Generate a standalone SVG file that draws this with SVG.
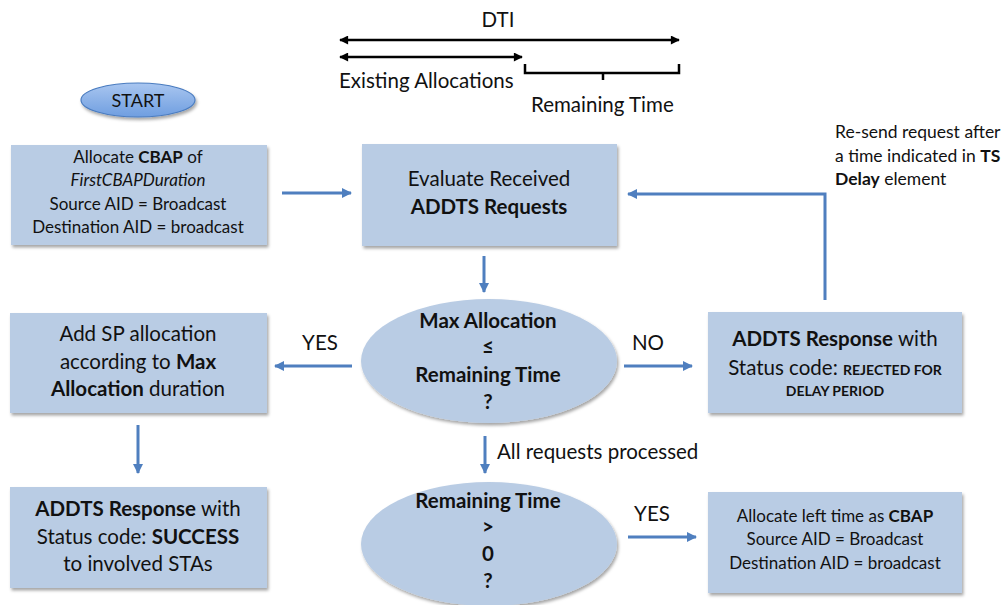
<svg xmlns="http://www.w3.org/2000/svg" width="1006" height="605" viewBox="0 0 1006 605">
<style>
text{font-family:Lato,"Liberation Sans",sans-serif;fill:#111}
.c{text-anchor:middle}
.b{font-weight:bold}
.box{fill:#b9cce4}
.f16{font-size:17px}
.f19{font-size:20.5px}
.conn{stroke:#4f7fbf;stroke-width:3;fill:none}
.blk{stroke:#000;stroke-width:2.5;fill:none}
</style>
<defs>
<marker id="ah" viewBox="0 0 10 10" refX="9" refY="5" markerWidth="10" markerHeight="10" markerUnits="userSpaceOnUse" orient="auto">
<path d="M0,0 L10,5 L0,10 z" fill="#4f7fbf"/>
</marker>
<marker id="bh" viewBox="0 0 10 10" refX="9" refY="5" markerWidth="10" markerHeight="9" markerUnits="userSpaceOnUse" orient="auto-start-reverse">
<path d="M0,0 L10,5 L0,10 z" fill="#000"/>
</marker>
<filter id="sh" x="-5%" y="-5%" width="115%" height="120%">
<feDropShadow dx="1.5" dy="2.5" stdDeviation="1.5" flood-color="#000" flood-opacity="0.35"/>
</filter>
<linearGradient id="sg" x1="0" y1="0" x2="0" y2="1">
<stop offset="0" stop-color="#a9c6f0"/>
<stop offset="1" stop-color="#6f9ee0"/>
</linearGradient>
</defs>

<g id="dti-scale">
<text class="c f19" x="498" y="27">DTI</text>
<line class="blk" x1="340" y1="40" x2="679" y2="40" marker-start="url(#bh)" marker-end="url(#bh)"/>
<line class="blk" x1="340" y1="57" x2="522" y2="57" marker-start="url(#bh)" marker-end="url(#bh)"/>
<path class="blk" d="M525,64 V73 H679 V64 M603,73 V80"/>
<text class="f19" x="339" y="88">Existing Allocations</text>
<text class="f19" x="531" y="112">Remaining Time</text>
</g>

<g id="start">
<ellipse cx="138" cy="100" rx="57" ry="17" fill="url(#sg)" stroke="#4a7cc0" stroke-width="1.2" filter="url(#sh)"/>
<text class="c" x="138" y="107" style="font-size:18px">START</text>
</g>

<g id="alloc-cbap">
<rect class="box" x="11" y="145" width="256" height="100" filter="url(#sh)"/>
<text class="c f16" x="138" y="163">Allocate <tspan class="b">CBAP</tspan> of</text>
<text class="c f16" x="138" y="186" font-style="italic">FirstCBAPDuration</text>
<text class="c f16" x="138" y="210">Source AID = Broadcast</text>
<text class="c f16" x="138" y="233">Destination AID = broadcast</text>
</g>

<g id="evaluate">
<rect class="box" x="362" y="144" width="255" height="102" filter="url(#sh)"/>
<text class="c f19" x="489" y="186">Evaluate Received</text>
<text class="c f19 b" x="489" y="214">ADDTS Requests</text>
</g>

<g id="resend-note">
<text x="835" y="138" style="font-size:17.5px">Re-send request after</text>
<text x="835" y="162" style="font-size:17.5px">a time indicated in <tspan class="b">TS</tspan></text>
<text x="835" y="185" style="font-size:17.5px"><tspan class="b">Delay</tspan> element</text>
</g>

<g id="add-sp">
<rect class="box" x="10" y="313" width="257" height="100" filter="url(#sh)"/>
<text class="c f19" x="138" y="341">Add SP allocation</text>
<text class="c f19" x="138" y="369">according to <tspan class="b">Max</tspan></text>
<text class="c f19" x="138" y="396"><tspan class="b">Allocation</tspan> duration</text>
</g>

<g id="decision-max">
<ellipse cx="489" cy="361" rx="128" ry="62" class="box" filter="url(#sh)"/>
<text class="c f19 b" x="488" y="328">Max Allocation</text>
<text class="c f19 b" x="488" y="354">≤</text>
<text class="c f19 b" x="488" y="382">Remaining Time</text>
<text class="c f19 b" x="488" y="409">?</text>
</g>

<g id="reject">
<rect class="box" x="708" y="312" width="254" height="101" filter="url(#sh)"/>
<text class="c f19" x="835" y="346"><tspan class="b">ADDTS Response</tspan> with</text>
<text class="c f19" x="835" y="375">Status code: <tspan class="b" style="font-size:14px">REJECTED FOR</tspan></text>
<text class="c b" x="835" y="396" style="font-size:14px">DELAY PERIOD</text>
</g>

<g id="success">
<rect class="box" x="10" y="487" width="257" height="101" filter="url(#sh)"/>
<text class="c f19" x="138" y="516"><tspan class="b">ADDTS Response</tspan> with</text>
<text class="c f19" x="138" y="544">Status code: <tspan class="b">SUCCESS</tspan></text>
<text class="c f19" x="138" y="571">to involved STAs</text>
</g>

<g id="decision-remaining">
<ellipse cx="489" cy="544" rx="128" ry="62" class="box" filter="url(#sh)"/>
<text class="c f19 b" x="488" y="508">Remaining Time</text>
<text class="c f19 b" x="488" y="534">&gt;</text>
<text class="c f19 b" x="488" y="561">0</text>
<text class="c f19 b" x="488" y="588">?</text>
</g>

<g id="alloc-left">
<rect class="box" x="708" y="492" width="254" height="101" filter="url(#sh)"/>
<text class="c f16" x="835" y="522">Allocate left time as <tspan class="b">CBAP</tspan></text>
<text class="c f16" x="835" y="545">Source AID = Broadcast</text>
<text class="c f16" x="835" y="569">Destination AID = broadcast</text>
</g>

<g id="connectors">
<line class="conn" x1="282" y1="193" x2="351" y2="193" marker-end="url(#ah)"/>
<line class="conn" x1="484" y1="256" x2="484" y2="292" marker-end="url(#ah)"/>
<line class="conn" x1="352" y1="366" x2="275" y2="366" marker-end="url(#ah)"/>
<line class="conn" x1="624" y1="366" x2="692" y2="366" marker-end="url(#ah)"/>
<path class="conn" d="M825,300 V194 H628" marker-end="url(#ah)"/>
<line class="conn" x1="138" y1="425" x2="138" y2="473" marker-end="url(#ah)"/>
<line class="conn" x1="485" y1="436" x2="485" y2="473" marker-end="url(#ah)"/>
<line class="conn" x1="628" y1="537" x2="696" y2="537" marker-end="url(#ah)"/>
<text class="f19" x="320" y="350" text-anchor="middle">YES</text>
<text class="f19" x="648" y="350" text-anchor="middle">NO</text>
<text class="f19" x="652" y="521" text-anchor="middle">YES</text>
<text class="f19" x="497" y="459">All requests processed</text>
</g>
</svg>
